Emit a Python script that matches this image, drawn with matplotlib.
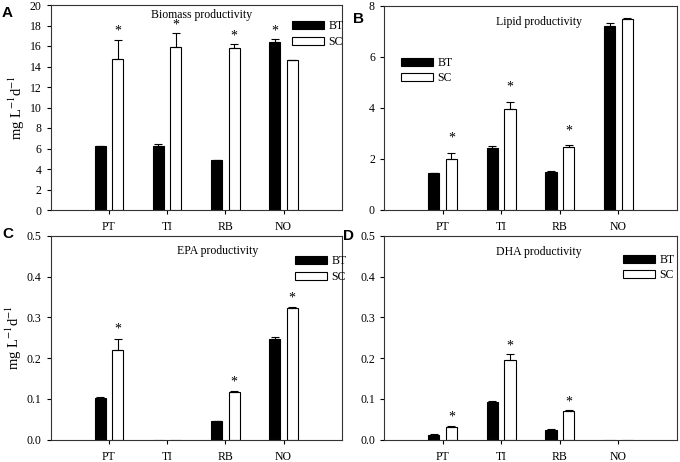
import matplotlib
matplotlib.use("Agg")
import matplotlib.pyplot as plt
import numpy as np

categories = ['PT', 'TI', 'RB', 'NO']
series_names = ['BT', 'SC']

biomass_bt = [6.2, 6.2, 4.85, 16.35]
biomass_bt_err = [0.05, 0.2, 0.05, 0.3]
biomass_sc = [14.7, 15.95, 15.85, 14.6]
biomass_sc_err = [1.9, 1.3, 0.3, 0.05]
biomass_sig_bt = [False, False, False, True]
biomass_sig_sc = [True, True, True, False]

lipid_bt = [1.42, 2.40, 1.48, 7.2]
lipid_bt_err = [0.02, 0.1, 0.02, 0.15]
lipid_sc = [1.99, 3.94, 2.46, 7.49]
lipid_sc_err = [0.25, 0.3, 0.07, 0.03]
lipid_sig_bt = [False, False, False, False]
lipid_sig_sc = [True, True, True, False]

epa_bt = [0.103, 0.0, 0.045, 0.247]
epa_bt_err = [0.001, 0.0, 0.001, 0.005]
epa_sc = [0.22, 0.0, 0.117, 0.324]
epa_sc_err = [0.028, 0.0, 0.002, 0.001]
epa_sig_bt = [False, False, False, False]
epa_sig_sc = [True, False, True, True]

dha_bt = [0.012, 0.092, 0.024, 0.0]
dha_bt_err = [0.001, 0.003, 0.001, 0.0]
dha_sc = [0.030, 0.195, 0.071, 0.0]
dha_sc_err = [0.004, 0.015, 0.001, 0.0]
dha_sig_bt = [False, False, False, False]
dha_sig_sc = [True, True, True, False]

titles = ['Biomass productivity', 'Lipid productivity', 'EPA productivity', 'DHA productivity']
panel_letters = ['A', 'B', 'C', 'D']
ylims = [20, 8, 0.5, 0.5]
ysteps = [2, 2, 0.1, 0.1]
yfmt = ['{:.0f}', '{:.0f}', '{:.1f}', '{:.1f}']

plt.rcParams['font.family'] = ['Liberation Serif', 'DejaVu Serif']
plt.rcParams['mathtext.fontset'] = 'stix'

W, H = 680, 462
fig = plt.figure(figsize=(W / 100, H / 100), dpi=100)


def rect(l, r, t, b):
    return [l / W, 1 - b / H, (r - l) / W, (b - t) / H]


axes_px = [(50.7, 341.7, 5, 210), (384, 677, 6, 209.5),
           (50.7, 341.7, 236, 439.5), (384, 677, 236, 439.5)]
title_pos = [(0.52, 0.952), (0.53, 0.92), (0.575, 0.926), (0.53, 0.923)]
legend_pos = [(0.829, 0.925), (0.058, 0.75), (0.84, 0.905), (0.816, 0.912)]
letter_px = [(7, 13), (359, 19), (7.5, 234), (349, 236)]
star_offset = [6.0, 10.5, 6.5, 6.0]

data = [
    (biomass_bt, biomass_bt_err, biomass_sc, biomass_sc_err, biomass_sig_bt, biomass_sig_sc),
    (lipid_bt, lipid_bt_err, lipid_sc, lipid_sc_err, lipid_sig_bt, lipid_sig_sc),
    (epa_bt, epa_bt_err, epa_sc, epa_sc_err, epa_sig_bt, epa_sig_sc),
    (dha_bt, dha_bt_err, dha_sc, dha_sc_err, dha_sig_bt, dha_sig_sc),
]

x = np.arange(len(categories))
bw = 0.19
off = 0.15

for i in range(4):
    ax = fig.add_axes(rect(*axes_px[i]))
    bt, bte, sc, sce, sigbt, sigsc = data[i]
    for vals, errs, sig, xpos, fc, name in [
        (bt, bte, sigbt, x - off, 'black', series_names[0]),
        (sc, sce, sigsc, x + off, 'white', series_names[1]),
    ]:
        ax.bar(xpos, vals, width=bw, color=fc, edgecolor='black', linewidth=0.8,
               label=name, zorder=2)
        for xp, v, e, s in zip(xpos, vals, errs, sig):
            if v > 0:
                ax.errorbar(xp, v, yerr=[[0], [e]], fmt='none', ecolor='black',
                            elinewidth=0.8, capsize=3, capthick=0.8, zorder=3)
            if s:
                ax.annotate('*', xy=(xp, v + e), xytext=(0, star_offset[i]),
                            textcoords='offset points', ha='center', va='center',
                            fontsize=10)
    ax.set_xlim(-1, 4)
    ax.set_ylim(0, ylims[i])
    ticks = np.arange(0, ylims[i] + ysteps[i] / 2, ysteps[i])
    ax.set_yticks(ticks)
    ax.set_yticklabels([yfmt[i].format(t) for t in ticks])
    ax.set_xticks(x)
    ax.set_xticklabels(categories)
    ax.tick_params(axis='both', direction='out', length=3, width=0.8, labelsize=8.5,
                   colors='black')
    ax.tick_params(axis='x', pad=5)
    for sp in ax.spines.values():
        sp.set_linewidth(0.8)
        sp.set_color('#333333')
    ax.text(title_pos[i][0], title_pos[i][1], titles[i], transform=ax.transAxes,
            ha='center', va='center', fontsize=8.5)
    ax.legend(loc='upper left', bbox_to_anchor=legend_pos[i], frameon=False,
              fontsize=8.5, handlelength=2.7, handleheight=0.7, handletextpad=0.4,
              labelspacing=0.3, borderpad=0, borderaxespad=0)
    if i in (0, 2):
        ax.set_ylabel('mg L$^{-1}$d$^{-1}$', fontsize=10.5, labelpad=2)
    fig.text(letter_px[i][0] / W, 1 - letter_px[i][1] / H, panel_letters[i],
             family='Liberation Sans', weight='bold', fontsize=11,
             ha='center', va='center')

fig.savefig('out.png', dpi=100)
